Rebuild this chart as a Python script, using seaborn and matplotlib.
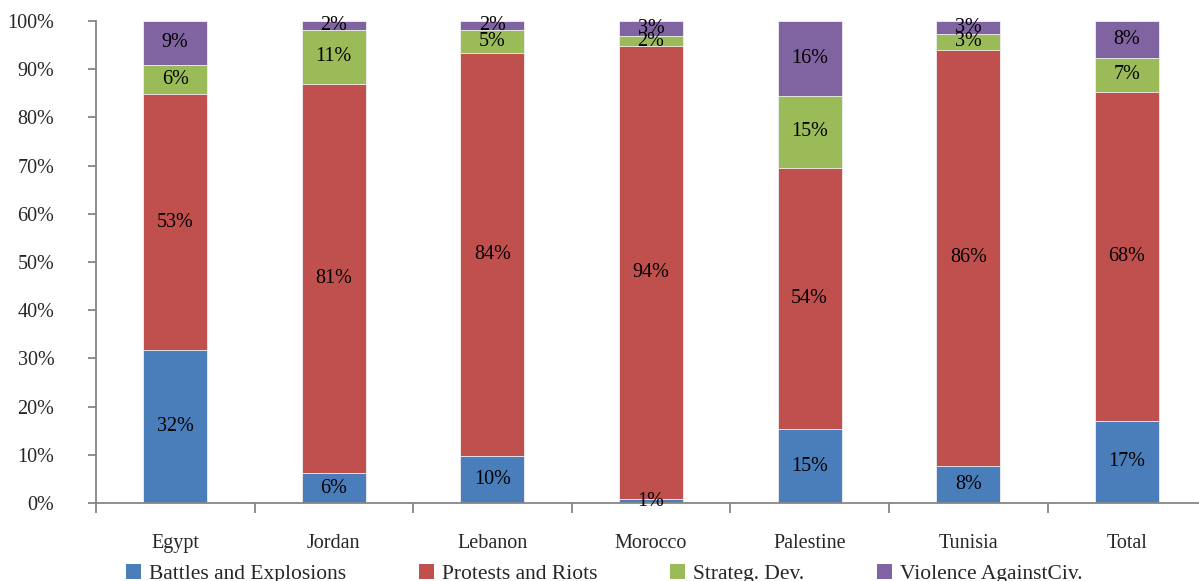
import pandas as pd
import numpy as np
import seaborn as sns
import matplotlib.pyplot as plt
from matplotlib.patches import Patch


# --------------------------------------------------
# Data (share of events, %)
# --------------------------------------------------
countries = ["Egypt", "Jordan", "Lebanon", "Morocco", "Palestine", "Tunisia", "Total"]
battles = [31.7, 6.2, 9.8, 0.8, 15.4, 7.8, 17.1]
protests = [53.1, 80.7, 83.6, 93.9, 54.2, 86.2, 68.2]
strateg = [6.1, 11.3, 4.7, 2.1, 14.8, 3.3, 7.0]
violence = [9.1, 1.8, 1.9, 3.2, 15.6, 2.7, 7.7]

series = ["Battles and Explosions", "Protests and Riots", "Strateg. Dev.", "Violence AgainstCiv."]
colors = ["#4A7EBB", "#C0504D", "#9BBB59", "#8064A2"]

df = pd.DataFrame({"country": countries, "s0": battles, "s1": protests,
                   "s2": strateg, "s3": violence})
cols = ["s0", "s1", "s2", "s3"]
cum = df[cols].cumsum(axis=1)

# --------------------------------------------------
# Plot
# --------------------------------------------------
sns.set_style("white")
plt.rcParams["font.family"] = ["Liberation Serif", "DejaVu Serif"]

fig = plt.figure(figsize=(11.99, 5.81), dpi=100)
ax = fig.add_axes([0.080, 0.134, 0.926, 0.830])

# draw tallest cumulative layer first, smaller ones on top
for i in range(3, -1, -1):
    d = pd.DataFrame({"country": countries, "val": cum[cols[i]].values})
    sns.barplot(data=d, x="country", y="val", color=colors[i], saturation=1,
                width=0.404, edgecolor="#f2f2f2", linewidth=0.6, ax=ax)

# segment labels
for j in range(len(countries)):
    start = 0
    for i, c in enumerate(cols):
        v = df[c].iloc[j]
        ax.text(j, start + v / 2, f"{v:.0f}%", ha="center", va="center",
                fontsize=14.5, color="black")
        start += v

ax.set_xlim(-0.5, 6.5)
ax.set_ylim(0, 100)
ax.set_yticks(np.arange(0, 101, 10))
ax.set_yticklabels([f"{t}%" for t in range(0, 101, 10)])
ax.set_xticks(range(len(countries)))
ax.set_xticklabels(countries)
ax.set_xticks(np.arange(-0.5, 7, 1), minor=True)
ax.set_xlabel("")
ax.set_ylabel("")

spine_c = "#868686"
for s in ["top", "right"]:
    ax.spines[s].set_visible(False)
for s in ["left", "bottom"]:
    ax.spines[s].set_color(spine_c)
    ax.spines[s].set_linewidth(1.3)

ax.tick_params(axis="y", which="major", left=True, length=6, width=1.3,
               color=spine_c, pad=24, labelsize=14.5)
ax.tick_params(axis="x", which="major", bottom=False, length=0, pad=22, labelsize=14.5)
ax.tick_params(axis="x", which="minor", bottom=True, length=7, width=1.3, color=spine_c)

handles = [Patch(facecolor=c, edgecolor="none") for c in colors]
fig.legend(handles, series, loc="center", bbox_to_anchor=(0.504, 0.012),
           ncol=4, frameon=False, fontsize=15.5, handlelength=0.7, handleheight=0.7,
           handletextpad=0.35, columnspacing=3.4, borderaxespad=0)

plt.savefig("out.png", dpi=100)
plt.close()
